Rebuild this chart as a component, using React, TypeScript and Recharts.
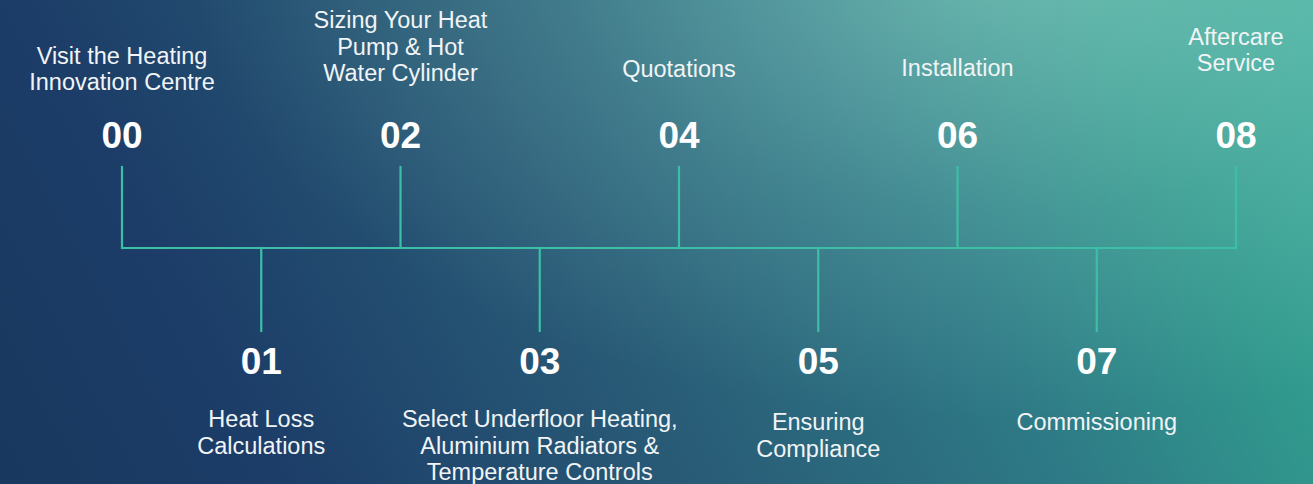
import React from 'react';
import { ComposedChart, XAxis, YAxis, Scatter, ReferenceLine } from 'recharts';

// timeline steps (index on the x axis)
const stepIndex = [0, 1, 2, 3, 4, 5, 6, 7, 8];
const stepNumbers = ['00', '01', '02', '03', '04', '05', '06', '07', '08'];
const stepLabels = [
  ['Visit the Heating', 'Innovation Centre'],
  ['Heat Loss', 'Calculations'],
  ['Sizing Your Heat', 'Pump & Hot', 'Water Cylinder'],
  ['Select Underfloor Heating,', 'Aluminium Radiators &', 'Temperature Controls'],
  ['Quotations'],
  ['Ensuring', 'Compliance'],
  ['Installation'],
  ['Commissioning'],
  ['Aftercare', 'Service'],
];

const data = stepIndex.map((i) => ({
  idx: i,
  y: 0,
  num: stepNumbers[i],
  label: stepLabels[i],
}));

// layout (pixels relative to the timeline axis)
const W = 1313;
const H = 484;
const LINE = '#3dbfa7';
const FONT = '"Liberation Sans", Arial, Helvetica, sans-serif';
const TICK_UP = 81;
const TICK_DOWN = 83;
const LINE_GAP = 26.5;
// top labels: baseline of last line, bottom labels: baseline of first line
const LABEL_BASE = [-158, 179, -167, 179, -171, 182, -172, 182, -177];

const StepMarker = (props: any) => {
  const { cx, cy, payload, index } = props;
  if (cx == null || cy == null) return null;
  const up = payload.idx % 2 === 0;
  const lines: string[] = payload.label;
  const base = LABEL_BASE[payload.idx];
  const numY = up ? cy - 100 : cy + 126;
  return (
    <g key={index}>
      <text
        x={cx}
        y={numY}
        textAnchor="middle"
        fontFamily={FONT}
        fontWeight="bold"
        fontSize={37}
        fill="#ffffff"
      >
        {payload.num}
      </text>
      {lines.map((t, k) => {
        const y = up
          ? cy + base - (lines.length - 1 - k) * LINE_GAP
          : cy + base + k * LINE_GAP;
        return (
          <text
            key={k}
            x={cx}
            y={y}
            textAnchor="middle"
            fontFamily={FONT}
            fontSize={23.5}
            fill="#f1f4f6"
          >
            {t}
          </text>
        );
      })}
    </g>
  );
};

export default function App() {
  return (
    <div
      style={{
        position: 'fixed',
        left: 0,
        top: 0,
        width: W,
        height: H,
        background:
          'radial-gradient(ellipse 820px 460px at 1010px -40px, rgba(165,222,210,0.5) 0%, rgba(165,222,210,0.18) 55%, rgba(165,222,210,0) 100%), ' +
          'linear-gradient(62deg, #19385f 0%, #1c3d68 18%, #295c77 45%, #2e7a86 68%, #31988d 85%, #3dac9b 100%)',
      }}
    >
      <ComposedChart
        width={W}
        height={H}
        data={data}
        margin={{ top: 0, right: 77, bottom: 0, left: 122 }}
      >
        <XAxis type="number" dataKey="idx" domain={[0, 8]} hide />
        <YAxis type="number" dataKey="y" domain={[-236, 248]} hide />
        <ReferenceLine y={0} stroke={LINE} strokeWidth={2.2} />
        {stepIndex.map((i) => (
          <ReferenceLine
            key={i}
            segment={[
              { x: i, y: 0 },
              { x: i, y: i % 2 === 0 ? TICK_UP : -TICK_DOWN },
            ]}
            stroke={LINE}
            strokeWidth={2.2}
            strokeLinecap="square"
          />
        ))}
        <Scatter
          dataKey="y"
          isAnimationActive={false}
          shape={(p: any) => <StepMarker {...p} />}
        />
      </ComposedChart>
    </div>
  );
}
